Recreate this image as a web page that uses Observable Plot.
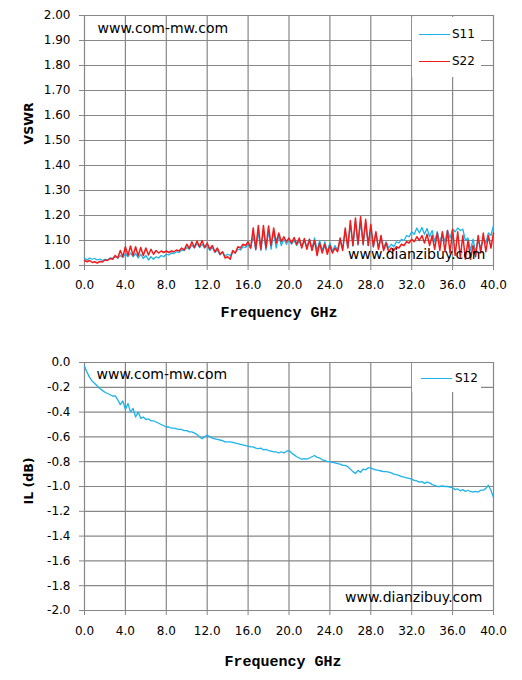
<!DOCTYPE html>
<html>
<head>
<meta charset="utf-8">
<script src="https://cdn.jsdelivr.net/npm/d3@7"></script>
<script src="https://cdn.jsdelivr.net/npm/@observablehq/plot@0.6"></script>
<style>
  html, body { margin: 0; padding: 0; background: #fff; }
  #wrap { position: relative; width: 522px; height: 680px; background: #fff; font-family: "DejaVu Sans", sans-serif; }
  #wrap svg { display: block; }
  .legend { position: absolute; background: #fff; }
  .sw { position: absolute; height: 0; width: 31px; }
  .lt { position: absolute; font-size: 12px; line-height: 14px; color: #000; }
</style>
</head>
<body>
<div id="wrap">
  <div id="topChart"></div>
  <div id="botChart"></div>
  <div class="legend" style="left:412px;top:17px;width:69px;height:60px;">
    <div class="sw" style="left:7px;top:17px;border-top:1.5px solid #1cb2ea;"></div>
    <div class="lt" style="left:40px;top:10px;">S11</div>
    <div class="sw" style="left:7px;top:44px;border-top:1.5px solid #ee1c1c;"></div>
    <div class="lt" style="left:40px;top:37px;">S22</div>
  </div>
  <div class="legend" style="left:412px;top:363px;width:69px;height:29px;">
    <div class="sw" style="left:9px;top:15px;border-top:1.5px solid #1cb2ea;"></div>
    <div class="lt" style="left:43px;top:8px;">S12</div>
  </div>
</div>
<script>
// Frequency grid (GHz), 0.25 GHz sampling
const freqStep = 0.25;
const freq = d3.range(161).map(i => +(i * freqStep).toFixed(2));

// VSWR S11 (one row = 2 GHz, 8 samples)
const s11 = [
  1.030,1.022,1.030,1.025,1.028,1.022,1.026,1.020,
  1.025,1.022,1.030,1.028,1.035,1.030,1.040,1.032,
  1.048,1.035,1.050,1.035,1.048,1.030,1.045,1.028,
  1.040,1.022,1.035,1.025,1.035,1.030,1.040,1.035,
  1.045,1.042,1.050,1.048,1.055,1.052,1.062,1.060,
  1.072,1.065,1.082,1.070,1.088,1.072,1.085,1.070,
  1.080,1.060,1.072,1.052,1.062,1.042,1.055,1.038,
  1.045,1.040,1.055,1.050,1.065,1.062,1.075,1.072,
  1.085,1.068,1.120,1.062,1.135,1.060,1.140,1.062,
  1.140,1.065,1.135,1.070,1.120,1.080,1.105,1.085,
  1.100,1.085,1.100,1.080,1.098,1.075,1.100,1.072,
  1.105,1.068,1.110,1.060,1.100,1.058,1.095,1.055,
  1.090,1.058,1.080,1.060,1.100,1.065,1.140,1.072,
  1.165,1.078,1.175,1.082,1.175,1.082,1.170,1.080,
  1.150,1.075,1.130,1.070,1.110,1.068,1.095,1.070,
  1.085,1.075,1.095,1.090,1.105,1.100,1.120,1.115,
  1.135,1.125,1.150,1.130,1.152,1.125,1.148,1.115,
  1.140,1.095,1.135,1.090,1.130,1.095,1.140,1.110,
  1.145,1.135,1.150,1.140,1.145,1.100,1.110,1.060,
  1.105,1.055,1.100,1.070,1.105,1.090,1.130,1.120,
  1.160
];

// VSWR S22
const s22 = [
  1.020,1.015,1.020,1.012,1.015,1.010,1.016,1.014,
  1.022,1.020,1.028,1.025,1.040,1.030,1.060,1.035,
  1.075,1.040,1.078,1.040,1.075,1.038,1.072,1.040,
  1.070,1.042,1.065,1.045,1.060,1.050,1.058,1.052,
  1.058,1.052,1.058,1.055,1.062,1.058,1.070,1.062,
  1.085,1.068,1.095,1.072,1.098,1.075,1.100,1.072,
  1.090,1.065,1.080,1.055,1.070,1.045,1.055,1.030,
  1.035,1.025,1.060,1.050,1.075,1.070,1.085,1.080,
  1.095,1.070,1.150,1.065,1.160,1.065,1.160,1.070,
  1.158,1.080,1.150,1.090,1.130,1.095,1.115,1.095,
  1.110,1.090,1.112,1.085,1.110,1.070,1.108,1.065,
  1.105,1.060,1.100,1.040,1.090,1.050,1.085,1.045,
  1.080,1.050,1.070,1.055,1.110,1.060,1.150,1.070,
  1.180,1.080,1.190,1.085,1.195,1.085,1.185,1.080,
  1.165,1.075,1.135,1.065,1.120,1.060,1.090,1.055,
  1.070,1.060,1.075,1.070,1.085,1.080,1.095,1.090,
  1.105,1.095,1.115,1.100,1.120,1.090,1.125,1.080,
  1.120,1.065,1.130,1.060,1.135,1.055,1.140,1.050,
  1.145,1.040,1.135,1.030,1.120,1.025,1.100,1.025,
  1.080,1.035,1.120,1.050,1.130,1.055,1.120,1.070,
  1.130
];

// Insertion loss S12 (dB)
const s12 = [
  -0.03,-0.08,-0.12,-0.15,-0.17,-0.19,-0.21,-0.225,
  -0.24,-0.25,-0.26,-0.27,-0.27,-0.30,-0.34,-0.31,
  -0.38,-0.33,-0.40,-0.37,-0.44,-0.40,-0.45,-0.44,
  -0.46,-0.455,-0.47,-0.47,-0.48,-0.49,-0.50,-0.51,
  -0.52,-0.52,-0.53,-0.53,-0.535,-0.54,-0.54,-0.55,
  -0.55,-0.56,-0.56,-0.57,-0.58,-0.60,-0.615,-0.60,
  -0.585,-0.60,-0.61,-0.615,-0.62,-0.625,-0.63,-0.64,
  -0.64,-0.64,-0.645,-0.65,-0.655,-0.66,-0.665,-0.67,
  -0.675,-0.68,-0.68,-0.69,-0.695,-0.69,-0.705,-0.70,
  -0.71,-0.715,-0.72,-0.72,-0.73,-0.72,-0.73,-0.715,
  -0.71,-0.73,-0.745,-0.76,-0.77,-0.78,-0.775,-0.78,
  -0.77,-0.76,-0.75,-0.765,-0.77,-0.785,-0.79,-0.80,
  -0.80,-0.805,-0.81,-0.815,-0.82,-0.83,-0.83,-0.84,
  -0.86,-0.88,-0.895,-0.87,-0.885,-0.86,-0.865,-0.85,
  -0.85,-0.86,-0.865,-0.87,-0.875,-0.88,-0.88,-0.885,
  -0.89,-0.90,-0.905,-0.91,-0.92,-0.925,-0.93,-0.935,
  -0.94,-0.95,-0.955,-0.965,-0.96,-0.975,-0.965,-0.97,
  -0.985,-0.99,-1.00,-1.00,-0.995,-1.00,-1.00,-1.005,
  -1.01,-1.025,-1.02,-1.035,-1.025,-1.04,-1.03,-1.04,
  -1.045,-1.04,-1.045,-1.03,-1.03,-1.015,-0.99,-1.03,
  -1.09
];

const xTicks = [0, 4, 8, 12, 16, 20, 24, 28, 32, 36, 40];
const vswrTicks = [1.0, 1.1, 1.2, 1.3, 1.4, 1.5, 1.6, 1.7, 1.8, 1.9, 2.0];
const ilTicks = [0.0, -0.2, -0.4, -0.6, -0.8, -1.0, -1.2, -1.4, -1.6, -1.8, -2.0];

const cyan = "#1cb2ea";
const red = "#ee1c1c";
const grid = "#878787";

const d11 = freq.map((f, i) => ({f, v: s11[i]}));
const d22 = freq.map((f, i) => ({f, v: s22[i]}));
const d12 = freq.map((f, i) => ({f, v: s12[i]}));

const baseStyle = {fontFamily: "DejaVu Sans, sans-serif", fontSize: "12px", color: "#000", background: "#fff", overflow: "visible"};

const vswrChart = Plot.plot({
  width: 522, height: 340,
  marginLeft: 84, marginRight: 29, marginTop: 15, marginBottom: 75,
  style: baseStyle,
  x: {domain: [0, 40]},
  y: {domain: [1, 2]},
  marks: [
    Plot.gridX(xTicks, {stroke: grid, strokeOpacity: 1, strokeWidth: 1.2}),
    Plot.gridY(vswrTicks, {stroke: grid, strokeOpacity: 1, strokeWidth: 1.2}),
    Plot.axisX(xTicks, {tickSize: 5, tickPadding: 10, stroke: grid, fill: "#000", tickFormat: d => d.toFixed(1), label: null}),
    Plot.axisY(vswrTicks, {tickSize: 5, tickPadding: 9, stroke: grid, fill: "#000", tickFormat: d => d.toFixed(2), label: null}),
    Plot.line(d11, {x: "f", y: "v", stroke: cyan, strokeWidth: 1.3}),
    Plot.line(d22, {x: "f", y: "v", stroke: red, strokeWidth: 1.5}),
    Plot.text(["www.com-mw.com"], {frameAnchor: "top-left", dx: 13, dy: 13, textAnchor: "start", lineAnchor: "middle", fontSize: 14, fill: "#000"}),
    Plot.text(["www.dianzibuy.com"], {frameAnchor: "bottom-right", dx: -8, dy: -11, textAnchor: "end", lineAnchor: "middle", fontSize: 14, fill: "#000"}),
    Plot.text(["Frequency GHz"], {frameAnchor: "bottom", dx: -10, dy: 47, lineAnchor: "middle", fontFamily: "Liberation Mono, monospace", fontWeight: "bold", fontSize: 15, fill: "#000"}),
    Plot.text(["VSWR"], {frameAnchor: "left", dx: -56, dy: 4, rotate: -90, lineAnchor: "middle", fontWeight: "bold", fontSize: 12.5, fill: "#000"})
  ]
});

const ilChart = Plot.plot({
  width: 522, height: 340,
  marginLeft: 84, marginRight: 29, marginTop: 22, marginBottom: 70,
  style: baseStyle,
  x: {domain: [0, 40]},
  y: {domain: [-2, 0]},
  marks: [
    Plot.gridX(xTicks, {stroke: grid, strokeOpacity: 1, strokeWidth: 1.2}),
    Plot.gridY(ilTicks, {stroke: grid, strokeOpacity: 1, strokeWidth: 1.2}),
    Plot.axisX(xTicks, {tickSize: 5, tickPadding: 11, stroke: grid, fill: "#000", tickFormat: d => d.toFixed(1), label: null}),
    Plot.axisY(ilTicks, {tickSize: 5, tickPadding: 9, stroke: grid, fill: "#000", tickFormat: d => d.toFixed(1), label: null}),
    Plot.line(d12, {x: "f", y: "v", stroke: cyan, strokeWidth: 1.3}),
    Plot.text(["www.com-mw.com"], {frameAnchor: "top-left", dx: 12, dy: 12, textAnchor: "start", lineAnchor: "middle", fontSize: 14, fill: "#000"}),
    Plot.text(["www.dianzibuy.com"], {frameAnchor: "bottom-right", dx: -11, dy: -13, textAnchor: "end", lineAnchor: "middle", fontSize: 14, fill: "#000"}),
    Plot.text(["Frequency GHz"], {frameAnchor: "bottom", dx: -6, dy: 51, lineAnchor: "middle", fontFamily: "Liberation Mono, monospace", fontWeight: "bold", fontSize: 15, fill: "#000"}),
    Plot.text(["IL (dB)"], {frameAnchor: "left", dx: -56, dy: 18, rotate: -90, lineAnchor: "middle", fontWeight: "bold", fontSize: 12.5, fill: "#000"})
  ]
});

document.getElementById("topChart").appendChild(vswrChart);
document.getElementById("botChart").appendChild(ilChart);
</script>
</body>
</html>
